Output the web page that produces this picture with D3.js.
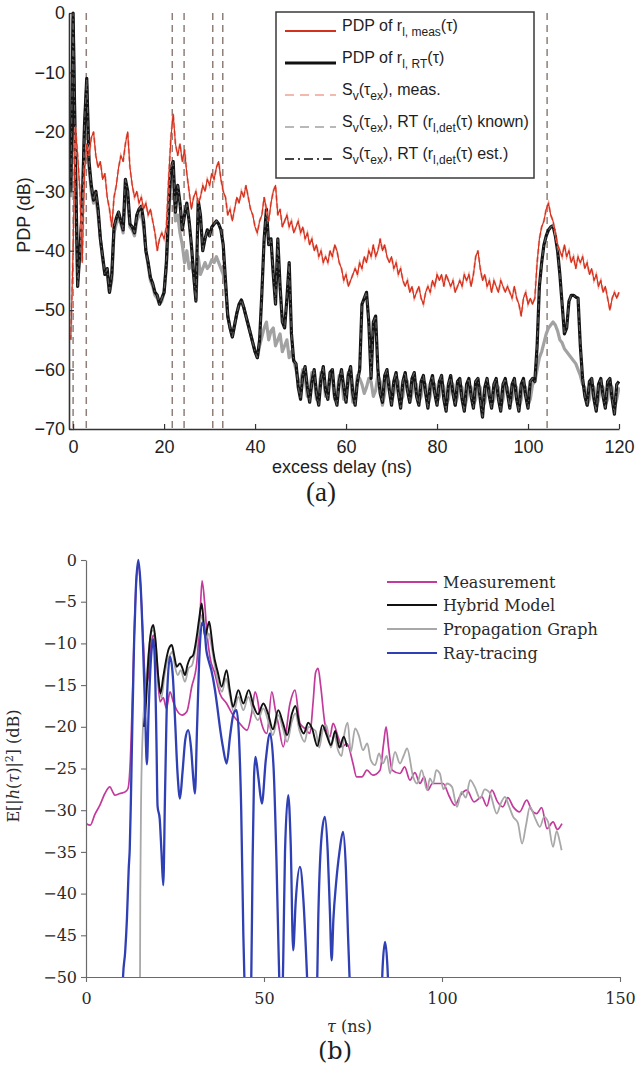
<!DOCTYPE html>
<html>
<head>
<meta charset="utf-8">
<script src="https://cdn.jsdelivr.net/npm/d3@7"></script>
<style>
  body { margin: 0; background: #fff; }
  svg { display: block; }
</style>
</head>
<body>
<svg id="fig" width="636" height="1071"></svg>
<script>
// ---------- Panel (a): PDP vs. excess delay ----------
// Sampled every 0.5 ns starting at -0.5 ns (one value per sample, rows of 5 ns)
const pdpStart = -0.5;
const pdpStep = 0.5;

// PDP of r_l,meas(τ) [dB]
const pdpMeas = [
  -55,
  -40, -19, -24, -30, -42, -27, -22, -24, -21, -20,
  -24, -26, -25, -28, -27, -31, -33, -36, -31, -29,
  -26, -24, -25, -22, -20, -26, -29, -31, -30, -32,
  -31, -33, -32, -34, -33, -35, -37, -40, -38, -37,
  -38, -36, -28, -21, -17, -22, -24, -22, -25, -23,
  -27, -30, -33, -31, -30, -32, -31, -29, -30, -28,
  -29, -27, -28, -26, -25, -28, -30, -31, -34, -33,
  -35, -33, -31, -32, -30, -31, -29, -31, -33, -34,
  -36, -37, -35, -34, -31, -33, -35, -32, -30, -29,
  -34, -33, -36, -35, -34, -36, -35, -37, -36, -35,
  -37, -36, -38, -37, -39, -38, -40, -39, -41, -40,
  -42, -41, -42, -40, -41, -39, -40, -42, -43, -45,
  -44, -46, -45, -44, -43, -44, -42, -43, -41, -42,
  -40, -41, -39, -41, -40, -38, -40, -39, -41, -42,
  -41, -43, -42, -44, -43, -45, -46, -45, -47, -46,
  -48, -47, -46, -48, -49, -47, -46, -47, -45, -46,
  -44, -45, -44, -46, -44, -45, -46, -45, -47, -46,
  -45, -46, -44, -45, -44, -46, -44, -41, -40, -43,
  -45, -44, -46, -45, -47, -45, -46, -47, -45, -46,
  -47, -46, -47, -48, -46, -48, -49, -51, -48, -47,
  -49, -48, -49, -48, -42, -38, -36, -35, -33, -32,
  -34, -35, -37, -39, -40, -41, -39, -41, -40, -42,
  -41, -43, -41, -42, -41, -43, -42, -44, -43, -45,
  -44, -46, -45, -47, -46, -48, -50, -48, -47, -48,
  -47
];

// PDP of r_l,RT(τ) [dB]
const pdpRT = [
  -30,
  0, -24, -46, -40, -33, -19, -11, -25, -29, -31.5,
  -30, -33, -38, -41, -44, -43, -47, -44, -36, -34.5,
  -33.5, -35, -36.5, -28, -30, -35.5, -36, -37, -34, -33,
  -32.5, -35, -40, -42, -44.5, -45.5, -47, -47.5, -49, -48,
  -47, -42, -33, -26, -25, -33.5, -29, -32, -36.5, -34,
  -32, -35, -39, -44, -48.5, -31.5, -34, -40, -38, -36.5,
  -37.5, -36, -35.5, -35, -35.5, -36.5, -39, -45, -51, -53,
  -54.5, -52.5, -50.5, -49, -48.3, -49.5, -51, -52.5, -54, -55.5,
  -57, -58, -55, -47, -38, -33, -39, -38, -44, -49,
  -38, -46, -52, -53, -48, -42, -54, -58.5, -59, -63,
  -65, -61, -59.5, -63, -65.5, -62, -60, -64, -66, -61.5,
  -59.5, -63.5, -65, -60.5, -60, -64.5, -66, -62, -60, -63,
  -65.5, -61, -59.5, -64, -66, -62, -60, -49, -48, -47,
  -52, -61.5, -52, -51, -60, -64, -65.5, -61, -60, -63.5,
  -66, -62, -60.5, -64, -66.5, -62, -60.5, -63.5, -65.5, -61.5,
  -60.5, -64.5, -66, -62, -61, -64, -66.5, -62.5, -61, -64,
  -66, -62, -61, -65, -67, -62.5, -61, -64, -66, -62,
  -61.5, -65, -67, -62.5, -61.5, -64.5, -66.5, -62, -61.5, -65,
  -68, -63, -61.5, -64.5, -66.5, -62.5, -61.5, -65, -67, -62.5,
  -61.5, -64, -66.5, -62.5, -61.5, -65, -67, -62.5, -61.5, -64.5,
  -66.5, -62, -61.5, -62, -56, -46, -42, -39, -37.5, -36.5,
  -36, -35.8, -37.5, -40, -44, -49, -54, -53, -48.5, -47.5,
  -47.5, -47.8, -48, -56, -61.5, -64.5, -66, -62, -61.5, -65,
  -67, -62.5, -61.5, -64.5, -66.5, -62, -61.5, -65, -67.5, -62.5,
  -62
];

// S_v(τ_ex), RT with r_l,det(τ) known [dB]
const svKnown = [
  -31,
  -1, -25, -45, -40, -34, -20, -12, -26, -30, -32,
  -31, -34, -38, -41.5, -44, -44, -47, -45, -37, -35.5,
  -34.5, -35.5, -37, -30, -31, -36, -36.5, -37.5, -35, -34,
  -34, -36, -40, -42.5, -45, -46, -47.5, -48, -49, -48.5,
  -47, -43, -35, -27, -27, -35, -34, -37, -39, -42,
  -40, -43, -42, -44, -48, -41, -44, -43, -42, -43,
  -42.5, -41.5, -42, -41, -42, -43, -44, -46, -51, -53,
  -54.5, -52.5, -50.5, -49, -48.3, -49.5, -51, -52.5, -54, -55.5,
  -57, -58, -56, -54.5, -53, -52, -55, -53.5, -53, -56,
  -55, -54, -57, -56, -55, -58, -57, -58.5, -60, -62,
  -62, -60, -61.5, -64.5, -64, -60.5, -61.5, -65, -64, -60.5,
  -61, -64.5, -63.5, -60.5, -61.5, -65, -64.5, -61, -61.5, -65,
  -64, -60.5, -61.5, -65.5, -64.5, -61, -61.5, -62.5, -64, -63,
  -61.5, -62, -64.5, -63.5, -61, -62, -66, -64, -61, -62,
  -65.5, -64, -61.5, -62, -65.5, -64.5, -61.5, -62, -65.5, -64,
  -62, -62.5, -65.5, -64.5, -62, -62.5, -66, -64.5, -62, -62.5,
  -65.5, -64.5, -62, -63, -66, -65, -62, -62.5, -66, -64.5,
  -62.5, -63, -66.5, -65, -62.5, -63, -66, -65, -62.5, -63,
  -66.5, -65.5, -62.5, -63, -66, -65, -62.5, -63, -66.5, -65,
  -62.5, -63, -66, -65, -62.5, -63, -66.5, -65, -62.5, -63,
  -66, -65, -62.5, -62, -60, -58, -57, -55.5, -54, -53,
  -52.5, -52, -52.5, -53.5, -55, -55.5, -56.5, -57, -57.5, -58,
  -58.5, -59, -60, -61, -62.5, -63, -66, -65, -62.5, -63,
  -66.5, -65, -62.5, -63, -66, -65, -62.5, -63, -66.5, -65,
  -63
];

// Delays [ns] of the detected specular components
const specularDelays = [0, 2.9, 21.8, 24.4, 30.7, 32.9, 104.2];

const xTicksA = [0, 20, 40, 60, 80, 100, 120];
const yTicksA = [0, -10, -20, -30, -40, -50, -60, -70];

// Legend entries: text runs, "s" marks a subscript run
const legendA = [
  [["PDP of r", ""], ["l, meas", "s"], ["(τ)", ""]],
  [["PDP of r", ""], ["l, RT", "s"], ["(τ)", ""]],
  [["S", ""], ["v", "s"], ["(τ", ""], ["ex", "s"], ["), meas.", ""]],
  [["S", ""], ["v", "s"], ["(τ", ""], ["ex", "s"], ["), RT (r", ""], ["l,det", "s"], ["(τ) known)", ""]],
  [["S", ""], ["v", "s"], ["(τ", ""], ["ex", "s"], ["), RT (r", ""], ["l,det", "s"], ["(τ) est.)", ""]]
];

// ---------- Panel (b): power delay profiles ----------
const bSeriesNames = ["Measurement", "Hybrid Model", "Propagation Graph", "Ray-tracing"];

// [τ (ns), dB]
const measurementB = [
  [0,-31.6],[1.2,-31.8],[2.5,-30.5],[3.9,-29.4],[5.3,-28],[6.7,-27.2],[7.5,-27.8],[8.1,-28.2],
  [9.5,-28],[11,-27.8],[11.8,-27.4],[12.4,-24.5],[13,-17],[13.6,-8],[14.2,-2],[14.7,-0.5],
  [15.3,-3],[16,-9],[16.8,-15],[17.5,-14],[18.3,-10],[19,-9],[19.8,-12],[20.8,-17],[21.7,-16.5],
  [22.6,-17.8],[23.6,-15.8],[24.5,-17],[25.5,-18],[27,-18.6],[28.3,-18.2],[29.7,-15.2],[31.1,-12.4],
  [32,-7],[32.6,-2.5],[33.3,-5],[33.9,-8.4],[34.8,-11.6],[36.2,-13.6],[37.6,-16],[39.5,-17.2],
  [41.3,-18.6],[43.2,-19.6],[45.2,-20.4],[46.6,-18.2],[47.5,-15.8],[48.3,-17],[48.9,-18.8],
  [50.8,-20.8],[52.2,-15.8],[53.2,-18],[54,-19.6],[55.4,-22.4],[57.3,-17.2],[58.7,-15.6],
  [60.1,-19.6],[61.5,-20.2],[62.9,-20.8],[63.8,-17],[64.5,-13.5],[65.2,-13],[65.9,-15],
  [67.1,-19.6],[68.5,-21.2],[69.4,-19.6],[70.8,-21.2],[71.9,-22.4],[73.3,-22],[75,-24.4],
  [76,-26],[77.5,-26],[78.9,-25.2],[80.6,-25.8],[82.6,-25.2],[83.6,-22],[84.3,-20],[85,-22.5],
  [86,-25.2],[88.2,-25.6],[89.5,-24.8],[91,-26.4],[92.4,-25.5],[93.8,-26.8],[95,-26],[96,-27.6],
  [97.3,-26.8],[98.6,-26.8],[100.3,-26.8],[102,-28.3],[103.6,-29.4],[105.2,-28.2],[107,-27.6],
  [109,-29],[111.2,-28.4],[112.6,-29.5],[114,-27.6],[115.6,-29],[117.1,-29.6],[118.5,-28.5],
  [120,-29.6],[121.8,-30.2],[123.8,-28.8],[125.2,-30],[126.6,-30.4],[128,-29.7],[129.5,-32.2],
  [131.2,-31.4],[132.4,-32.3],[133.7,-31.6]
];

const hybridB = [
  [16.3,-20],[16.8,-17.5],[17.5,-12],[18.3,-8.5],[18.9,-7.8],[19.5,-9.5],
  [20.3,-14],[20.9,-16],[21.7,-14],[22.5,-12],[23.3,-10.6],[24.1,-10.2],[24.8,-11.5],[25.5,-12.8],
  [26.4,-12.4],[27.1,-13],[27.8,-13.8],[28.5,-12.6],[29.2,-11.8],[30.1,-11.4],[31.1,-9.2],
  [31.8,-7],[32.5,-5.2],[33,-7.2],[33.4,-9.2],[34,-8.3],[34.6,-7.4],[35.2,-9],[35.7,-10.8],
  [37.1,-13.6],[38.1,-15.2],[39.5,-13.2],[40.4,-15.6],[41.3,-17.6],[42.8,-15.6],[44.2,-17.2],
  [45.7,-15.6],[47,-17.4],[48.3,-18.5],[49.8,-17.2],[51.2,-18.5],[52.5,-20.3],[54,-18],
  [55.3,-19.5],[56.5,-21],[57.8,-18.5],[58.8,-17.5],[60,-19.8],[61.2,-20.8],[62.4,-19.5],
  [63.5,-20.2],[65,-22.3],[66.4,-19.8],[67.6,-21],[68.8,-22.2],[70,-20.5],[71.2,-22.5],
  [72.4,-21.2],[73.3,-22.4]
];

const propGraphB = [
  [15.1,-60],[15.25,-40],[15.5,-28],[16,-20],[16.8,-15.5],[17.6,-11],[18.4,-8.6],[19,-8.4],
  [19.6,-10],[20.4,-14.5],[21.2,-16.5],[22,-14],[22.8,-12.2],[23.6,-11.4],[24.3,-11],[25,-12.8],
  [25.8,-13.8],[26.6,-13.2],[27.8,-14.6],[28.8,-13],[29.8,-12.6],[30.8,-10.6],[31.7,-8.4],
  [32.5,-6.6],[33.2,-8.4],[33.8,-9.4],[34.5,-8.8],[35.2,-10.2],[36,-12.2],[37.1,-14.6],
  [38.2,-15.8],[39.3,-14.2],[40.4,-16.2],[41.5,-18.2],[42.8,-16.4],[44.2,-18],[45.6,-16.4],
  [47,-18.2],[48.3,-19.2],[49.8,-17.8],[51.2,-19.3],[52.5,-21],[54,-18.6],[55.3,-20.2],
  [56.5,-21.8],[57.8,-19.4],[58.8,-18.4],[60,-20.5],[61.4,-21.8],[62.5,-20],[63.5,-20.2],
  [64.5,-20.5],[65.5,-22.5],[66.5,-20.4],[67.5,-19.8],[68.8,-22.5],[69.8,-21],[70.8,-22.8],
  [71.8,-23.5],[72.6,-20.8],[73.5,-19.5],[74.4,-23],[75.6,-20.2],[76.6,-21],[77.8,-22.8],
  [79,-22],[80,-24],[81.2,-24.6],[82.3,-23.2],[83.4,-24.4],[84.5,-23.5],[85.4,-25.6],
  [86.8,-23],[88.2,-24.4],[89.2,-23.5],[90.2,-22.6],[91.9,-26],[93,-26.8],[94.3,-25.2],
  [95.8,-27.6],[96.6,-26.2],[97.5,-26.8],[98.4,-25.2],[99.4,-25.6],[100.4,-27.5],[101.4,-26.8],
  [102.8,-27.2],[104.2,-29.6],[105.5,-27.8],[106.7,-28.5],[107.9,-26.4],[109.2,-27.2],
  [110.7,-28.6],[112,-27.5],[113.5,-28],[115.4,-30.4],[116.5,-29.2],[117.7,-28.4],[118.8,-29.5],
  [120,-30.8],[121.3,-31.5],[122.5,-34],[123.6,-31.8],[124.7,-29.6],[126.2,-31],[127.5,-32],
  [128.7,-30.8],[129.8,-31.4],[131.2,-34.4],[132.2,-32.5],[133.1,-33.8],[133.6,-34.8]
];

const rayTracingB = [
  [10,-58],[10.4,-50],[11,-47],[11.5,-43],[12,-37],[12.3,-34.5],[12.6,-29],[13,-20],[13.5,-10],
  [14,-3.5],[14.7,0],[15.4,-3.5],[16,-10],[16.6,-18],[17.1,-24.5],[17.6,-18],[18.3,-11.5],
  [18.9,-9.5],[19.4,-13],[19.8,-22],[20.1,-29.5],[20.7,-31],[21.2,-35],[21.7,-39],[22.2,-28],
  [22.8,-16],[23.6,-11.6],[24.4,-14],[25,-19],[25.7,-25.5],[26.4,-28.6],[27.1,-25.5],
  [27.9,-21.5],[28.7,-20.4],[29.5,-22.5],[30.2,-26.5],[30.6,-28],[31.2,-20],[31.9,-11],
  [32.6,-7.5],[33.2,-8],[33.8,-10.8],[34.4,-12],[35.2,-13.2],[36.2,-15.5],[37,-18],[37.6,-20],
  [38.5,-22.5],[39.5,-24.4],[40.5,-21],[41.4,-18.5],[42.3,-18],[43,-21.5],[43.6,-30],
  [44.2,-45],[44.6,-52],[45.5,-60],[46.4,-51],[46.8,-36],[47.2,-26],[47.6,-23.6],[48.4,-26],
  [49.4,-29.2],[50.5,-24],[51.7,-20.8],[52.7,-25],[53.5,-36],[54.1,-47],[54.5,-53],[55,-55],
  [55.4,-48],[55.9,-35],[56.8,-28.2],[57.5,-34],[58.2,-46.8],[58.9,-41],[60.1,-36.8],
  [61.1,-41],[61.8,-47],[62.4,-53],[63.5,-60],[64.8,-53],[65.3,-42],[66.2,-33],[67.1,-30.8],
  [67.9,-35],[68.5,-42],[69,-48],[69.5,-43],[70.2,-39],[71.2,-35],[72.2,-32.6],[73,-37],
  [73.6,-45],[74.2,-52],[75,-60],[82.5,-60],[83.3,-49],[84,-45.8],[84.7,-49],[85.5,-60]
];

const xTicksB = [0, 50, 100, 150];
const yTicksB = [0, -5, -10, -15, -20, -25, -30, -35, -40, -45, -50];

// ---------- drawing ----------
const svg = d3.select("#fig");
const minus = d => (d < 0 ? "\u2212" + Math.abs(d) : String(d));
const sampled = arr => arr.map((v, i) => [pdpStart + i * pdpStep, v]);

// ===== Panel (a) =====
const sansA = "'Liberation Sans', Arial, Helvetica, sans-serif";
const xA = d3.scaleLinear().domain([-0.9, 120]).range([69, 619]);
const yA = d3.scaleLinear().domain([-70, 0]).range([429, 13]);

const defs = svg.append("defs");
defs.append("clipPath").attr("id", "clipA")
  .append("rect").attr("x", 69).attr("y", 10).attr("width", 551).attr("height", 419);
defs.append("clipPath").attr("id", "clipB")
  .append("rect").attr("x", 86).attr("y", 540).attr("width", 540).attr("height", 437);

const gA = svg.append("g");
const plotA = gA.append("g").attr("clip-path", "url(#clipA)");

// specular component markers
plotA.selectAll("line.spec").data(specularDelays).join("line")
  .attr("class", "spec")
  .attr("x1", d => xA(d)).attr("x2", d => xA(d))
  .attr("y1", yA(0)).attr("y2", yA(-70))
  .attr("stroke", "#8f7f78").attr("stroke-width", 1.5)
  .attr("stroke-dasharray", "7,5");

const lineA = d3.line().x(d => xA(d[0])).y(d => yA(d[1]));

plotA.append("path").datum(sampled(svKnown))
  .attr("d", lineA).attr("fill", "none")
  .attr("stroke", "#a2a2a2").attr("stroke-width", 3.2).attr("stroke-linejoin", "round");

plotA.append("path").datum(sampled(pdpRT))
  .attr("d", lineA).attr("fill", "none")
  .attr("stroke", "#141414").attr("stroke-width", 3.2).attr("stroke-linejoin", "round");

// S_v, RT (estimated) follows the RT PDP
plotA.append("path").datum(sampled(pdpRT))
  .attr("d", lineA).attr("fill", "none")
  .attr("stroke", "#5a5a5a").attr("stroke-width", 1.2)
  .attr("stroke-dasharray", "6,3,1.5,3");

plotA.append("path").datum(sampled(pdpMeas))
  .attr("d", lineA).attr("fill", "none")
  .attr("stroke", "#f1a394").attr("stroke-width", 2.2)
  .attr("stroke-dasharray", "5,3");

plotA.append("path").datum(sampled(pdpMeas))
  .attr("d", lineA).attr("fill", "none")
  .attr("stroke", "#d4301e").attr("stroke-width", 1.2).attr("stroke-linejoin", "round");

// axes (a)
const axXA = gA.append("g").attr("transform", `translate(0,${yA(-70)})`)
  .call(d3.axisBottom(xA).tickValues(xTicksA).tickSizeInner(-5).tickSizeOuter(0)
    .tickPadding(11).tickFormat(d => d));
const axYA = gA.append("g").attr("transform", `translate(${xA(-0.9)},0)`)
  .call(d3.axisLeft(yA).tickValues(yTicksA).tickSizeInner(-5).tickSizeOuter(0)
    .tickPadding(4).tickFormat(minus));
[axXA, axYA].forEach(ax => {
  ax.select(".domain").attr("stroke", "#333").attr("stroke-width", 1.6);
  ax.selectAll(".tick line").attr("stroke", "#333").attr("stroke-width", 1.2);
  ax.selectAll(".tick text").attr("fill", "#1e1e1e")
    .style("font-family", sansA).style("font-size", "18px");
});

gA.append("text").attr("x", 342).attr("y", 473).attr("text-anchor", "middle")
  .style("font-family", sansA).style("font-size", "18px").attr("fill", "#1e1e1e")
  .text("excess delay (ns)");
gA.append("text").attr("transform", "translate(30,215) rotate(-90)")
  .attr("text-anchor", "middle")
  .style("font-family", sansA).style("font-size", "18px").attr("fill", "#1e1e1e")
  .text("PDP (dB)");
gA.append("text").attr("x", 321).attr("y", 501).attr("text-anchor", "middle")
  .style("font-family", "'Liberation Serif', 'Times New Roman', serif").style("font-size", "27px")
  .attr("fill", "#1e1e1e").text("(a)");

// legend (a)
const legA = gA.append("g");
legA.append("rect").attr("x", 276).attr("y", 12).attr("width", 258).attr("height", 166)
  .attr("fill", "#fff").attr("stroke", "#3a3a3a").attr("stroke-width", 1.5);
const legStyles = [
  { stroke: "#d4301e", w: 1.8, dash: null },
  { stroke: "#111", w: 3.2, dash: null },
  { stroke: "#f1a394", w: 1.6, dash: "9,6" },
  { stroke: "#b8b8b8", w: 2.2, dash: "9,6" },
  { stroke: "#444", w: 2, dash: "9,4,2,4" }
];
const legRowY = [31, 63, 95, 127, 159];
legendA.forEach((runs, i) => {
  const st = legStyles[i];
  const ln = legA.append("line").attr("x1", 285).attr("x2", 336)
    .attr("y1", legRowY[i]).attr("y2", legRowY[i])
    .attr("stroke", st.stroke).attr("stroke-width", st.w);
  if (st.dash) ln.attr("stroke-dasharray", st.dash);
  const t = legA.append("text").attr("x", 342).attr("y", legRowY[i])
    .style("font-family", sansA).style("font-size", "16px").attr("fill", "#1e1e1e");
  let shifted = false;
  runs.forEach(([txt, kind]) => {
    const sp = t.append("tspan").text(txt);
    if (kind === "s" && !shifted) { sp.attr("dy", 5).style("font-size", "12px"); shifted = true; }
    else if (kind === "s") { sp.style("font-size", "12px"); }
    else if (shifted) { sp.attr("dy", -5); shifted = false; }
  });
});

// ===== Panel (b) =====
const serifB = "'DejaVu Serif', 'Liberation Serif', serif";
const xB = d3.scaleLinear().domain([0, 150]).range([86, 620]);
const yB = d3.scaleLinear().domain([-50, 0]).range([977, 560]);
const gB = svg.append("g");
const plotB = gB.append("g").attr("clip-path", "url(#clipB)");
const lineB = d3.line().x(d => xB(d[0])).y(d => yB(d[1])).curve(d3.curveMonotoneX);

const bColors = ["#c23a9c", "#111111", "#a8a8a8", "#2f3fb4"];
const bData = [measurementB, hybridB, propGraphB, rayTracingB];
const bWidth = [1.7, 1.9, 1.8, 2.3];
// draw order: measurement, graph, hybrid, ray-tracing
[0, 2, 1, 3].forEach(k => {
  plotB.append("path").datum(bData[k]).attr("d", lineB).attr("fill", "none")
    .attr("stroke", bColors[k]).attr("stroke-width", bWidth[k]).attr("stroke-linejoin", "round");
});

const axXB = gB.append("g").attr("transform", `translate(0,${yB(-50)})`)
  .call(d3.axisBottom(xB).tickValues(xTicksB).tickSizeInner(5).tickSizeOuter(0)
    .tickPadding(11).tickFormat(d => d));
const axYB = gB.append("g").attr("transform", `translate(${xB(0)},0)`)
  .call(d3.axisLeft(yB).tickValues(yTicksB).tickSizeInner(5).tickSizeOuter(0)
    .tickPadding(4).tickFormat(minus));
[axXB, axYB].forEach(ax => {
  ax.select(".domain").attr("stroke", "#6a6a6a").attr("stroke-width", 1.2);
  ax.selectAll(".tick line").attr("stroke", "#6a6a6a").attr("stroke-width", 1.1);
  ax.selectAll(".tick text").attr("fill", "#2a2a2a")
    .style("font-family", serifB).style("font-size", "16px");
});

// axis titles (b)
const xtB = gB.append("text").attr("x", 327).attr("y", 1032)
  .style("font-family", serifB).style("font-size", "16px").attr("fill", "#2a2a2a");
xtB.append("tspan").style("font-style", "italic").text("τ");
xtB.append("tspan").text(" (ns)");

const ytB = gB.append("text").attr("transform", "translate(19,766) rotate(-90)")
  .attr("text-anchor", "middle")
  .style("font-family", serifB).style("font-size", "16px").attr("fill", "#2a2a2a");
ytB.append("tspan").text("E[|");
ytB.append("tspan").style("font-style", "italic").text("h");
ytB.append("tspan").text("(");
ytB.append("tspan").style("font-style", "italic").text("τ");
ytB.append("tspan").text(")|");
ytB.append("tspan").attr("dy", -6).style("font-size", "11px").text("2");
ytB.append("tspan").attr("dy", 6).text("] (dB)");

gB.append("text").attr("x", 335).attr("y", 1059).attr("text-anchor", "middle")
  .style("font-family", serifB).style("font-size", "24px").attr("fill", "#1e1e1e").text("(b)");

// legend (b)
const legRowB = [582, 605, 629, 653];
bSeriesNames.forEach((name, i) => {
  gB.append("line").attr("x1", 387).attr("x2", 437)
    .attr("y1", legRowB[i]).attr("y2", legRowB[i])
    .attr("stroke", bColors[i]).attr("stroke-width", 2);
  gB.append("text").attr("x", 443).attr("y", legRowB[i] + 6)
    .style("font-family", serifB).style("font-size", "16px").attr("fill", "#2a2a2a")
    .text(name);
});
</script>
</body>
</html>
